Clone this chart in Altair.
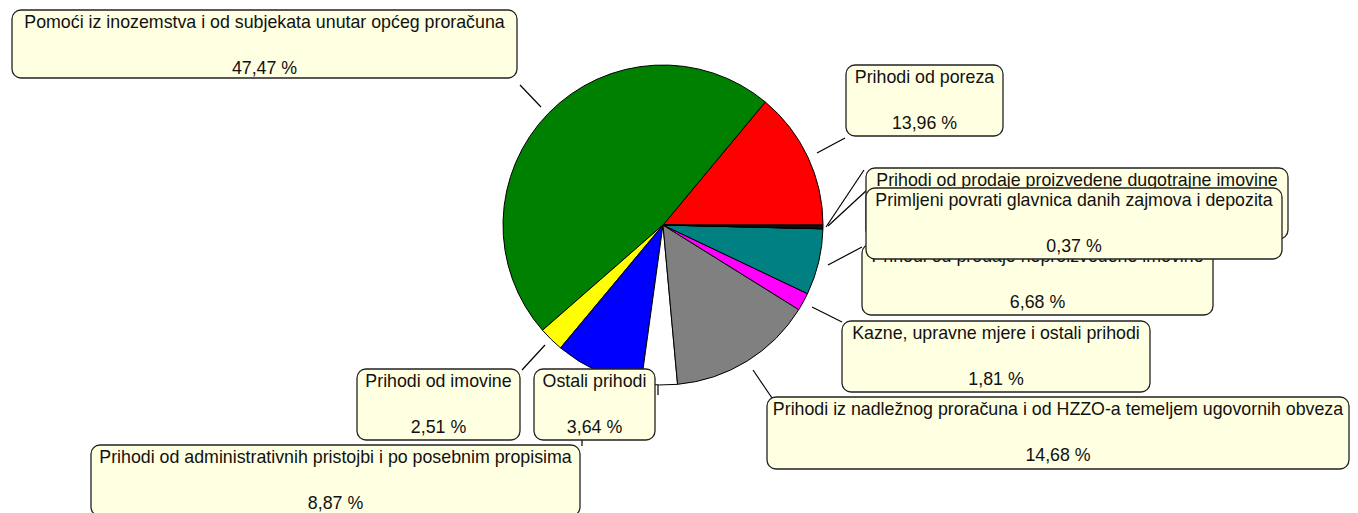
import math
import altair as alt
import pandas as pd

# ---- data (counter-clockwise order from 3 o'clock) ----
labels = [
    "Prihodi od poreza",
    "Pomoći iz inozemstva i od subjekata unutar općeg proračuna",
    "Prihodi od imovine",
    "Prihodi od administrativnih pristojbi i po posebnim propisima",
    "Ostali prihodi",
    "Prihodi iz nadležnog proračuna i od HZZO-a temeljem ugovornih obveza",
    "Kazne, upravne mjere i ostali prihodi",
    "Prihodi od prodaje neproizvedene imovine",
    "Prihodi od prodaje proizvedene dugotrajne imovine",
    "Primljeni povrati glavnica danih zajmova i depozita",
]
shares = [13.96, 47.47, 2.51, 8.87, 3.64, 14.68, 1.81, 6.68, 0.01, 0.37]
colors = ["#FF0000", "#008000", "#FFFF00", "#0000FF", "#FFFFFF",
          "#808080", "#FF00FF", "#008080", "#000000", "#101010"]

# ---- layout (page pixels) ----
OFF = 8
box_x1 = [846, 12, 357, 91, 534, 767, 842, 862, 866, 866]
box_x2 = [1003, 517, 520, 580, 655, 1349, 1150, 1213, 1288, 1282]
box_top = [65, 10, 369, 445, 369, 397, 321, 244, 168, 188]
box_h = [71, 68, 71, 71, 71, 72, 71, 71, 71, 71]
draw_order = [1, 0, 2, 3, 4, 5, 6, 7, 8, 9]

leaders = [  # x, y, x2, y2
    (520, 85, 541, 107),
    (817, 153, 845, 138),
    (826, 227, 864, 170),
    (828, 226, 867, 190),
    (828, 265, 862, 247),
    (812, 307, 842, 322),
    (753, 370, 772, 398),
    (545, 345, 522, 370),
    (658, 370, 658, 395),
    (658, 383, 683, 383),
    (582, 440, 582, 446),
]

CX, CY, R = 663, 225, 160

pie_df = pd.DataFrame({
    "label": labels,
    "share": shares,
    "idx": list(range(len(labels))),
})

box_df = pd.DataFrame({
    "idx": list(range(len(labels))),
    "x1": [v - OFF for v in box_x1],
    "x2": [v - OFF for v in box_x2],
    "y1": [v - OFF for v in box_top],
    "y2": [t + h - OFF for t, h in zip(box_top, box_h)],
})

rows = []
for i, (lab, v) in enumerate(zip(labels, shares)):
    xc = (box_x1[i] + box_x2[i]) / 2 - OFF
    rows.append({"idx": i, "xc": xc, "yc": box_top[i] + 13 - OFF, "txt": lab})
    rows.append({"idx": i, "xc": xc, "yc": box_top[i] + 59 - OFF,
                 "txt": f"{v:.2f}".replace(".", ",") + " %"})
text_df = pd.DataFrame(rows)

lead_df = pd.DataFrame(
    [{"x": a - OFF, "y": b - OFF, "x2": c - OFF, "y2": d - OFF} for a, b, c, d in leaders]
)

pie = alt.Chart(pie_df).mark_arc(radius=R, stroke="black", strokeWidth=1).encode(
    theta=alt.Theta("share:Q", stack=True,
                    scale=alt.Scale(range=[math.pi / 2, math.pi / 2 + 2 * math.pi])),
    color=alt.Color("label:N", scale=alt.Scale(domain=labels, range=colors), legend=None),
    order=alt.Order("idx:Q", sort="descending"),
    x=alt.value(CX - OFF),
    y=alt.value(CY - OFF),
)

lines = alt.Chart(lead_df).mark_rule(color="black", strokeWidth=1.2).encode(
    x=alt.X("x:Q", scale=None),
    y=alt.Y("y:Q", scale=None),
    x2="x2:Q",
    y2="y2:Q",
)

layers = [lines, pie]
for i in draw_order:
    rect = alt.Chart(box_df).transform_filter(alt.datum.idx == i).mark_rect(
        fill="#FFFFE1", stroke="#222222", strokeWidth=1.3, cornerRadius=9
    ).encode(
        x=alt.X("x1:Q", scale=None),
        x2="x2:Q",
        y=alt.Y("y1:Q", scale=None),
        y2="y2:Q",
    )
    txt = alt.Chart(text_df).transform_filter(alt.datum.idx == i).mark_text(
        font="Liberation Sans", fontSize=17.8, color="#111111",
        align="center", baseline="middle"
    ).encode(
        x=alt.X("xc:Q", scale=None),
        y=alt.Y("yc:Q", scale=None),
        text="txt:N",
    )
    layers += [rect, txt]

chart = alt.layer(*layers).properties(
    width=1342, height=505,
    autosize=alt.AutoSizeParams(type="none"),
    padding=0,
).configure_view(stroke=None)

chart.save("out.html", embed_options={"renderer": "svg", "actions": False})
